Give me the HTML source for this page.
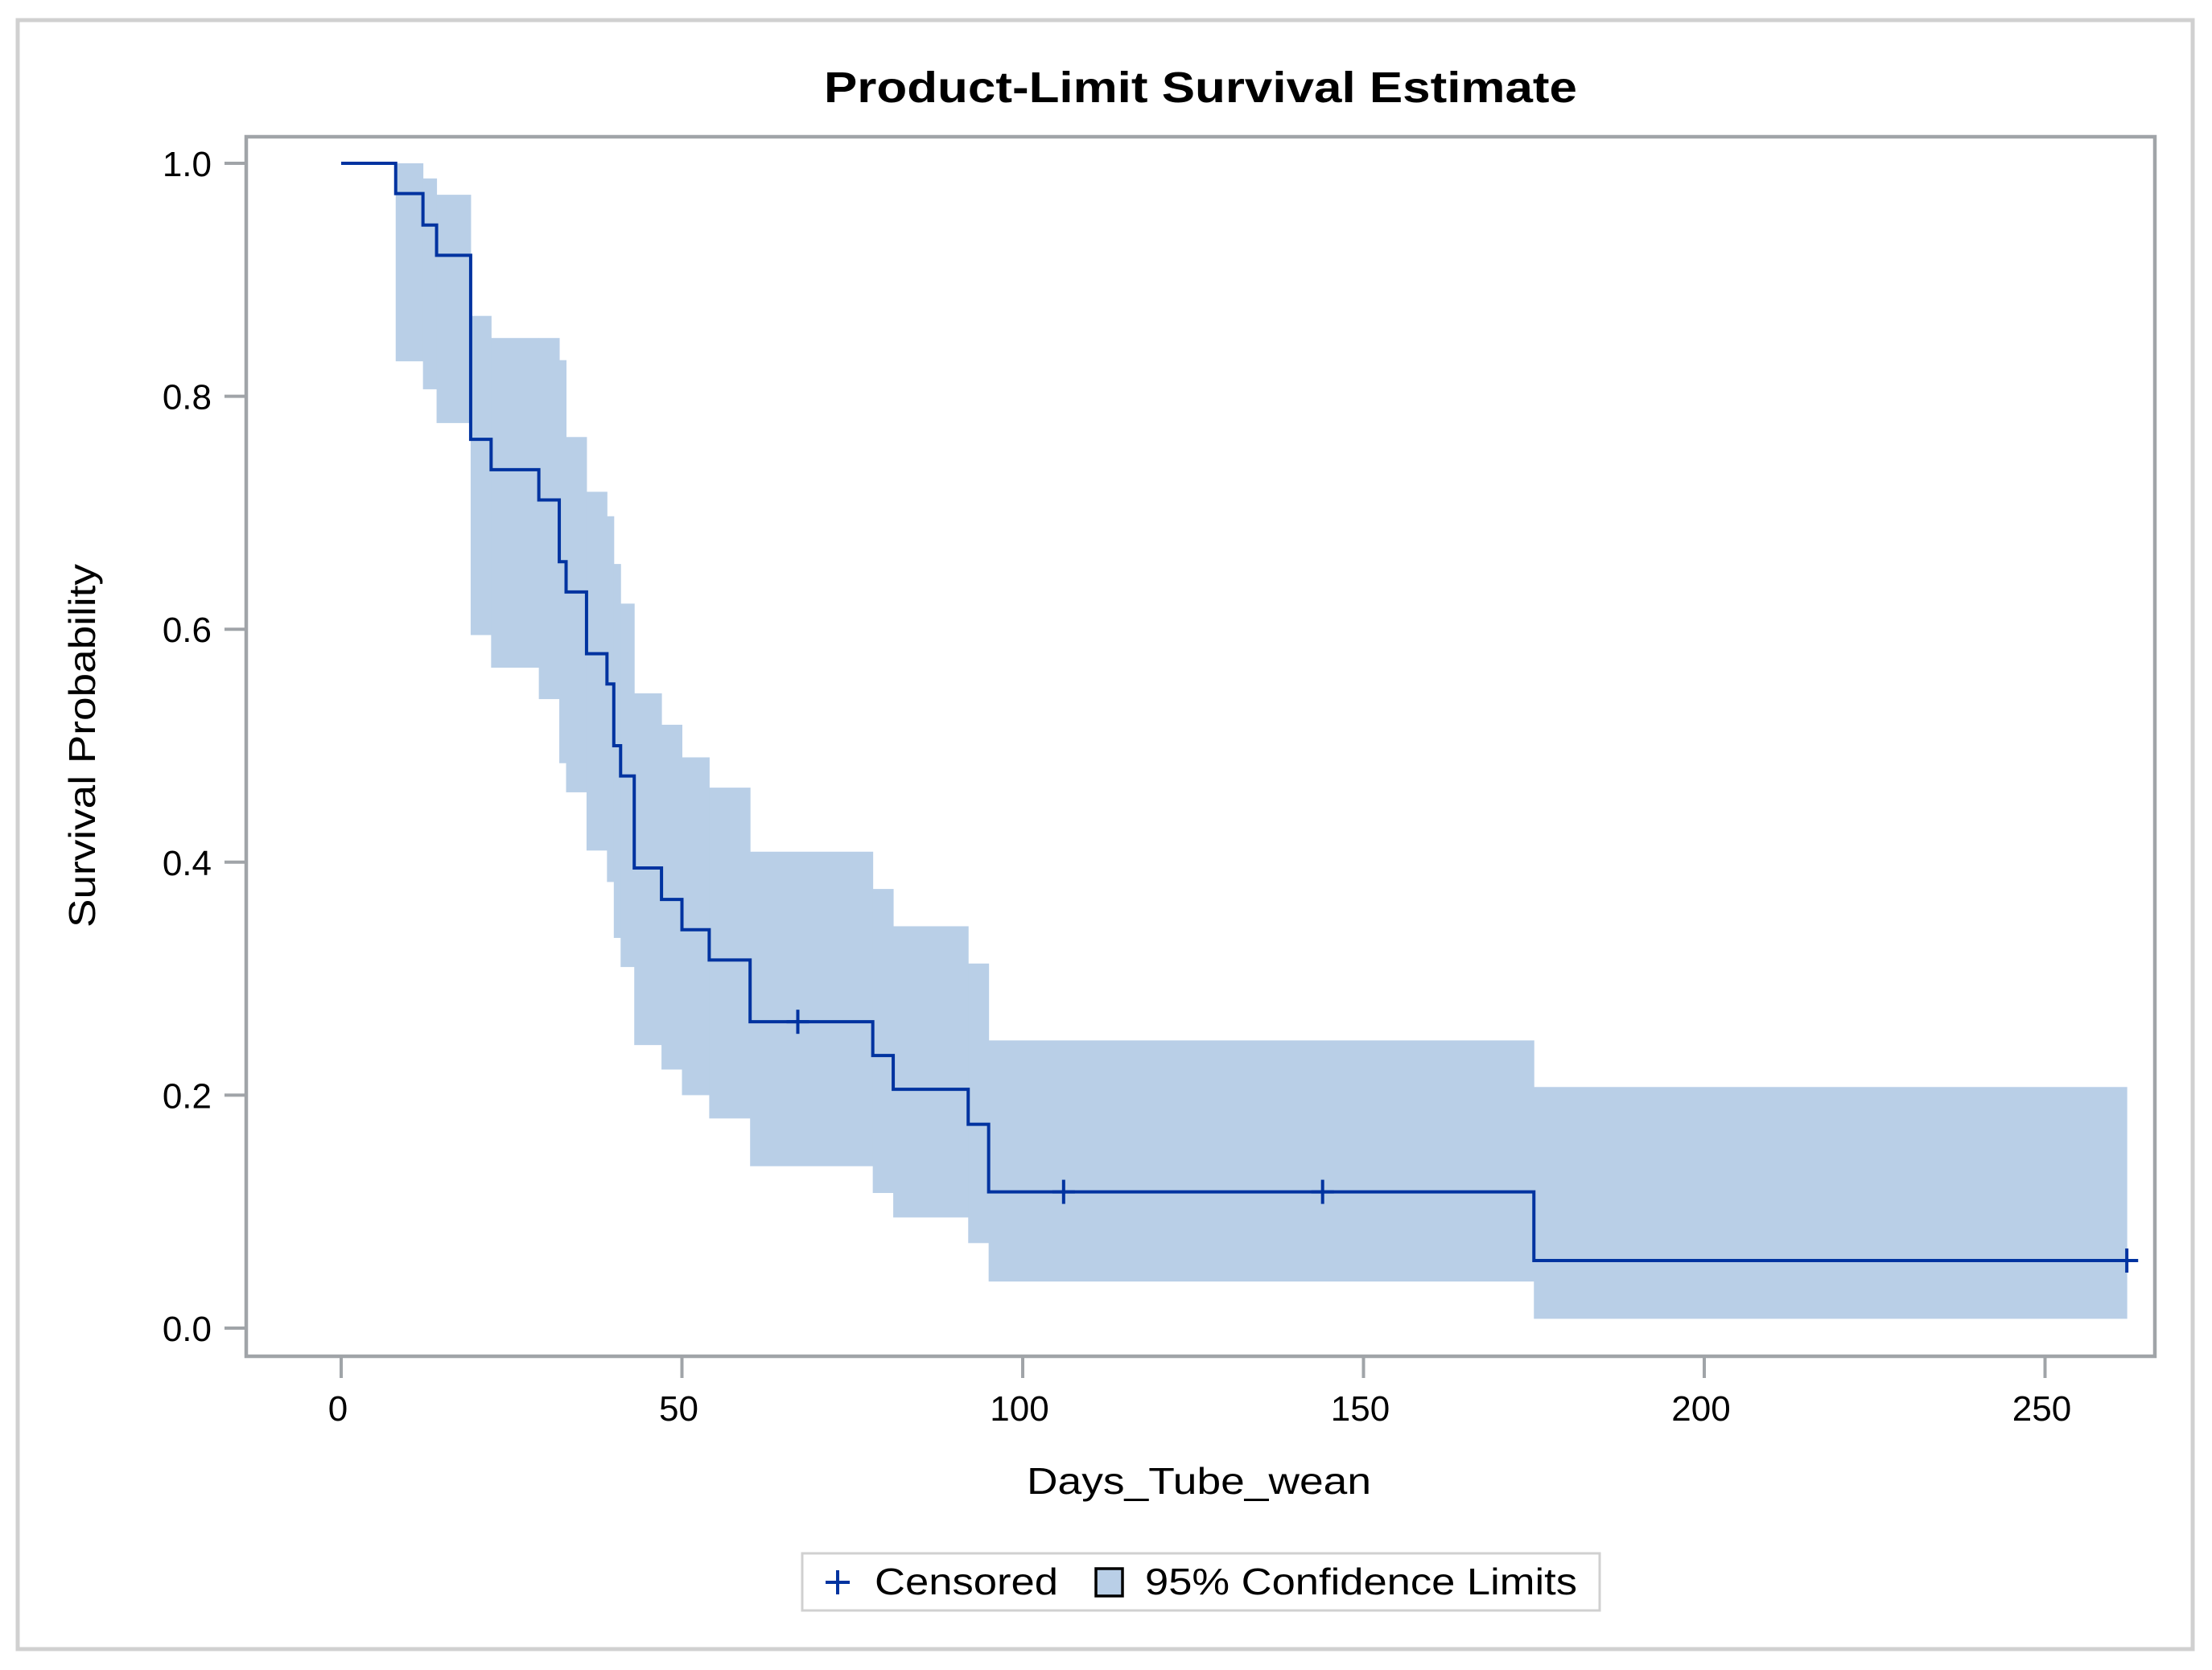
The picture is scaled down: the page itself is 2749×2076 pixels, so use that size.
<!DOCTYPE html>
<html><head><meta charset="utf-8"><style>html,body{margin:0;padding:0;background:#fff}svg{display:block}</style></head>
<body>
<svg id="chart" width="2749" height="2076" viewBox="0 0 2749 2076" xmlns="http://www.w3.org/2000/svg" font-family="Liberation Sans, sans-serif">
<rect x="22" y="25" width="2703" height="2025" fill="#fff" stroke="#d0d0d0" stroke-width="5"/>
<text x="1492" y="127" text-anchor="middle" font-weight="bold" font-size="54" textLength="936" lengthAdjust="spacingAndGlyphs" fill="#000">Product-Limit Survival Estimate</text>
<g id="band"></g>
<g id="line"></g>
<g id="censor"></g>
<rect x="306" y="170" width="2372" height="1516" fill="none" stroke="#a0a4a8" stroke-width="4.5"/>
<g id="yaxis"></g>
<g id="xaxis"></g>
<text x="1490" y="1857" text-anchor="middle" font-size="46" textLength="428" lengthAdjust="spacingAndGlyphs" fill="#000">Days_Tube_wean</text>
<text x="0" y="0" transform="translate(118,927) rotate(-90)" text-anchor="middle" font-size="46" textLength="452" lengthAdjust="spacingAndGlyphs" fill="#000">Survival Probability</text>
<g>
<rect x="997" y="1931" width="991" height="71" fill="#fff" stroke="#d0d0d0" stroke-width="3"/>
<g stroke="#0033a0" stroke-width="4"><line x1="1026" y1="1967" x2="1056" y2="1967"/><line x1="1041" y1="1952" x2="1041" y2="1982"/></g>
<text x="1087" y="1982" font-size="46" textLength="228" lengthAdjust="spacingAndGlyphs" fill="#000">Censored</text>
<rect x="1362" y="1950" width="33" height="34" fill="#b9cfe7" stroke="#000" stroke-width="3.5"/>
<text x="1423" y="1982" font-size="46" textLength="537" lengthAdjust="spacingAndGlyphs" fill="#000">95% Confidence Limits</text>
</g>
</svg>
<script>
const eventTimes = [0, 8, 12, 14, 19, 22, 29, 32, 33, 36, 39, 40, 41, 43, 47, 50, 54, 60, 78, 81, 92, 95, 175];
const survival   = [1.0, 0.974, 0.947, 0.921, 0.763, 0.737, 0.711, 0.658, 0.632, 0.579, 0.553, 0.5, 0.474, 0.395, 0.368, 0.342, 0.316, 0.263, 0.234, 0.205, 0.175, 0.117, 0.058];
const upperCL    = [null, 1.0, 0.987, 0.973, 0.869, 0.85, 0.85, 0.831, 0.765, 0.718, 0.697, 0.656, 0.622, 0.545, 0.518, 0.49, 0.464, 0.409, 0.377, 0.345, 0.313, 0.247, 0.207];
const lowerCL    = [null, 0.83, 0.806, 0.777, 0.595, 0.567, 0.54, 0.485, 0.46, 0.41, 0.383, 0.335, 0.31, 0.243, 0.222, 0.2, 0.18, 0.139, 0.116, 0.095, 0.073, 0.04, 0.008];
const censorTimes = [67, 106, 144, 262];
const endTime = 262;
const xTicks = [0, 50, 100, 150, 200, 250];
const yTicks = [0.0, 0.2, 0.4, 0.6, 0.8, 1.0];
const yTickLabels = ["0.0", "0.2", "0.4", "0.6", "0.8", "1.0"];

const NS = "http://www.w3.org/2000/svg";
function xs(d){ return 424 + d * 8.47; }
function ys(v){ return 1651 - v * 1448; }
function mk(tag, attrs, parent){ const e = document.createElementNS(NS, tag); for (const k in attrs) e.setAttribute(k, attrs[k]); parent.appendChild(e); return e; }
function survAt(t){ let s = survival[0]; for (let i = 0; i < eventTimes.length; i++) if (eventTimes[i] <= t) s = survival[i]; return s; }

const band = document.getElementById('band');
for (let i = 0; i < eventTimes.length; i++) {
  if (upperCL[i] === null) continue;
  const t0 = eventTimes[i];
  const t1 = i + 1 < eventTimes.length ? eventTimes[i + 1] : endTime;
  const r = mk('rect', {x: xs(t0), y: ys(upperCL[i]), width: xs(t1) - xs(t0) + 0.5, height: ys(lowerCL[i]) - ys(upperCL[i]), fill: '#b9cfe7'}, band);
  
  
}

const line = document.getElementById('line');
let d = 'M' + xs(eventTimes[0]) + ' ' + ys(survival[0]);
for (let i = 1; i < eventTimes.length; i++) {
  d += ' H' + xs(eventTimes[i]) + ' V' + ys(survival[i]);
}
d += ' H' + (xs(endTime) + 14);
const p = mk('path', {d: d, fill: 'none', stroke: '#0033a0', 'stroke-width': 4}, line);



const cg = document.getElementById('censor');
censorTimes.forEach(t => {
  const cx = xs(t), cy = ys(survAt(t));
  const g = mk('g', {stroke: '#0033a0', 'stroke-width': 4}, cg);
  
  
  mk('line', {x1: cx, y1: cy - 15, x2: cx, y2: cy + 15}, g);
  mk('line', {x1: cx - 14, y1: cy, x2: cx + 14, y2: cy}, g);
});

const ya = document.getElementById('yaxis');
yTicks.forEach((v, i) => {
  const t = mk('line', {x1: 279, y1: ys(v), x2: 306, y2: ys(v), stroke: '#a0a4a8', 'stroke-width': 4}, ya);
  
  
  const l = mk('text', {x: 263, y: ys(v) + 16, 'text-anchor': 'end', 'font-size': 44, fill: '#000'}, ya);
  
  
  l.textContent = yTickLabels[i];
});

const xa = document.getElementById('xaxis');
xTicks.forEach(v => {
  const t = mk('line', {x1: xs(v), y1: 1686, x2: xs(v), y2: 1713, stroke: '#a0a4a8', 'stroke-width': 4}, xa);
  
  
  const l = mk('text', {x: xs(v) - 4, y: 1766, 'text-anchor': 'middle', 'font-size': 44, fill: '#000'}, xa);
  
  
  l.textContent = String(v);
});
</script>
</body></html>
